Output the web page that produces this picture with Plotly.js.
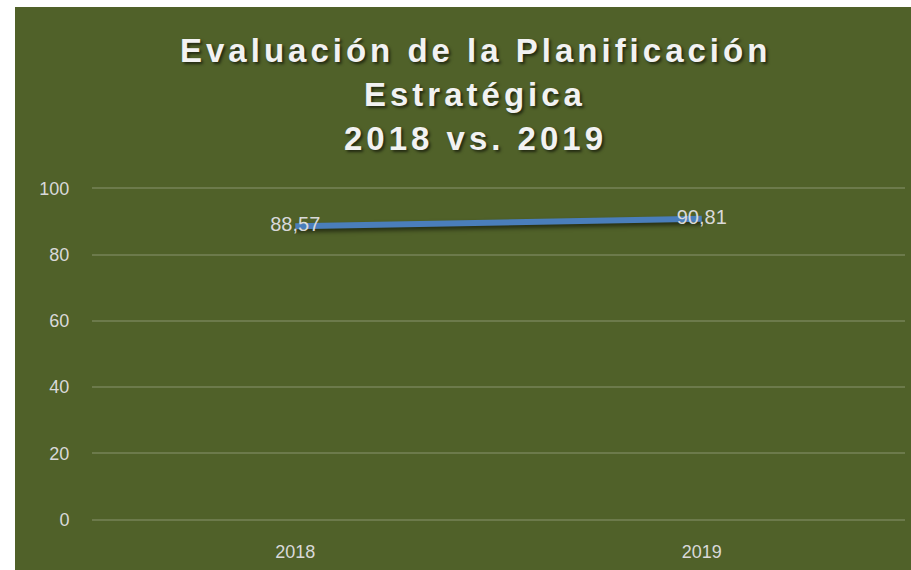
<!DOCTYPE html>
<html>
<head>
<meta charset="utf-8">
<script src="https://cdn.plot.ly/plotly-3.0.1.min.js"></script>
<style>
  html, body { margin: 0; padding: 0; background: #ffffff; }
  #chart { position: absolute; left: 15px; top: 7px; width: 896px; height: 563px; }
  #chart .annotation-text { letter-spacing: 4px; }
  #chart .js-line { filter: drop-shadow(1px 3px 2px rgba(0,0,0,0.55)); }
</style>
</head>
<body>
<div id="chart"></div>
<script>
// años y puntajes
const years = ['2018', '2019'];
const scores = [88.57, 90.81];
const scoreLabels = ['88,57', '90,81'];
const yTicks = [0, 20, 40, 60, 80, 100];
const titleLines = ['Evaluación de la Planificación', 'Estratégica', '2018 vs. 2019'];

const green = '#506129';
const textGray = '#d9d9d9';
const font = 'Liberation Sans, Arial, sans-serif';

const trace = {
    x: years,
    y: scores,
    type: 'scatter',
    mode: 'lines+text',
    text: scoreLabels,
    textposition: 'middle center',
    textfont: { family: font, size: 20, color: textGray },
    line: { color: '#4a7ebb', width: 6 },
    hoverinfo: 'skip',
    cliponaxis: false
};

// el título va en tres líneas, con más interlineado que el de Plotly
const titleAnnotations = titleLines.map((line, i) => ({
    text: line,
    xref: 'paper',
    yref: 'paper',
    x: 0.472,
    y: 1 + (135 - 44 * i) / 338,
    xanchor: 'center',
    yanchor: 'middle',
    showarrow: false,
    font: {
        family: font,
        size: 33,
        color: '#f2f2f2',
        weight: 'bold',
        shadow: '2px 2px 3px rgba(0,0,0,0.6)'
    }
}));

const layout = {
    width: 896,
    height: 563,
    paper_bgcolor: green,
    plot_bgcolor: green,
    margin: { l: 77, r: 6, t: 178, b: 47 },
    showlegend: false,
    annotations: titleAnnotations,
    xaxis: {
        type: 'category',
        range: [-0.5, 1.5],
        showgrid: false,
        zeroline: false,
        showline: false,
        ticks: 'outside',
        ticklen: 12,
        tickcolor: 'rgba(0,0,0,0)',
        tickfont: { family: font, size: 18, color: textGray },
        fixedrange: true
    },
    yaxis: {
        range: [-1, 101],
        tickvals: yTicks,
        ticktext: yTicks.map(String),
        showgrid: true,
        gridcolor: 'rgba(255,255,255,0.16)',
        gridwidth: 2,
        zeroline: false,
        showline: false,
        ticks: 'outside',
        ticklen: 18,
        tickcolor: 'rgba(0,0,0,0)',
        tickfont: { family: font, size: 18, color: textGray },
        fixedrange: true
    }
};

Plotly.newPlot('chart', [trace], layout, { displayModeBar: false, staticPlot: true });
</script>
</body>
</html>
